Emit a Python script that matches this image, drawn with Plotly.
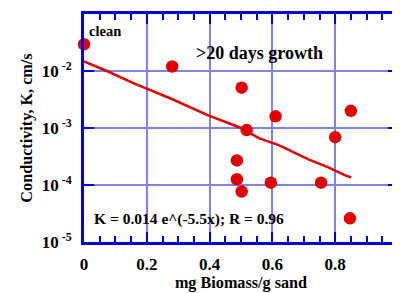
import plotly.graph_objects as go

# Data points (mg biomass / g sand, conductivity K in cm/s)
biomass = [0.0, 0.281, 0.502, 0.61, 0.518, 0.80, 0.85, 0.487, 0.487, 0.502, 0.595, 0.755, 0.847]
conductivity = [0.0295, 0.012, 0.0051, 0.0016, 0.00092, 0.00069, 0.002, 0.00027, 0.000126, 0.000077, 0.00011, 0.00011, 0.000026]

# Fit curve as drawn
fit_x = [0.0, 0.076, 0.161, 0.278, 0.392, 0.50, 0.557, 0.62, 0.715, 0.778, 0.832, 0.851]
fit_k = [0.0147, 0.0098, 0.0060, 0.00326, 0.0017, 0.0010, 0.000665, 0.0005, 0.000282, 0.000204, 0.000147, 0.000136]

x_ticks = [0, 0.2, 0.4, 0.6, 0.8, 1]
x_tick_labels = ["0", "0.2", "0.4", "0.6", "0.8", "1"]
y_ticks = [1e-5, 1e-4, 1e-3, 1e-2, 1e-1]
y_tick_labels = ["10<sup> -5</sup>", "10<sup> -4</sup>", "10<sup> -3</sup>", "10<sup> -2</sup>", "10<sup> -1</sup>"]

FONT = "Liberation Serif"
AXIS_BLUE = "#0000d8"
GRID_BLUE = "#8080ee"
RED = "#e00000"

fig = go.Figure()
fig.add_trace(go.Scatter(x=fit_x, y=fit_k, mode="lines",
                         line=dict(color=RED, width=2.5), showlegend=False))
fig.add_trace(go.Scatter(x=biomass, y=conductivity, mode="markers",
                         marker=dict(color=RED, size=12.5), cliponaxis=False,
                         showlegend=False))

fig.update_layout(
    width=400, height=293,
    margin=dict(l=76, r=10, t=6, b=59),
    plot_bgcolor="white", paper_bgcolor="white",
    font=dict(family=FONT, size=16, color="black"),
    xaxis=dict(
        range=[0, 1], tickvals=x_ticks, ticktext=[f"<b>{t}</b>" for t in x_tick_labels],
        automargin=False,
        showline=True, linecolor=AXIS_BLUE, linewidth=3, mirror="ticks",
        ticks="inside", ticklen=10, tickwidth=2, tickcolor=AXIS_BLUE,
        minor=dict(ticks="inside", dtick=0.05, tick0=0, ticklen=6, tickwidth=1.5, tickcolor=AXIS_BLUE, showgrid=False),
        showgrid=True, gridcolor=GRID_BLUE, gridwidth=2, zeroline=False,
        ticklabelstandoff=5,
        title=dict(text="<b>mg Biomass/g sand</b>", font=dict(size=16.2), standoff=0),
        tickfont=dict(size=17),
    ),
    yaxis=dict(
        type="log", range=[-5, -1], tickvals=y_ticks,
        ticktext=[f"<b>{t}</b>" for t in y_tick_labels],
        automargin=False,
        showline=True, linecolor=AXIS_BLUE, linewidth=3, mirror="ticks",
        ticks="inside", ticklen=10, tickwidth=2, tickcolor=AXIS_BLUE,
        showgrid=True, gridcolor=GRID_BLUE, gridwidth=2, zeroline=False,
        ticklabelstandoff=6,
        title=dict(text="<b>Conductivity, K, cm/s</b>", font=dict(size=16.2), standoff=6),
        tickfont=dict(size=17),
    ),
    annotations=[
        dict(x=0.01, y=-1.30, xref="x", yref="y", text="<b>clean</b>", showarrow=False,
             xanchor="left", yanchor="middle", font=dict(size=14.5)),
        dict(x=0.351, y=-1.69, xref="x", yref="y", text="<b>>20 days growth</b>", showarrow=False,
             xanchor="left", yanchor="middle", font=dict(size=18)),
        dict(x=0.025, y=-4.59, xref="x", yref="y", text="<b>K = 0.014 e^(-5.5x); R = 0.96</b>",
             showarrow=False, xanchor="left", yanchor="middle", font=dict(size=15.5)),
    ],
)

fig.write_html("out.html")
